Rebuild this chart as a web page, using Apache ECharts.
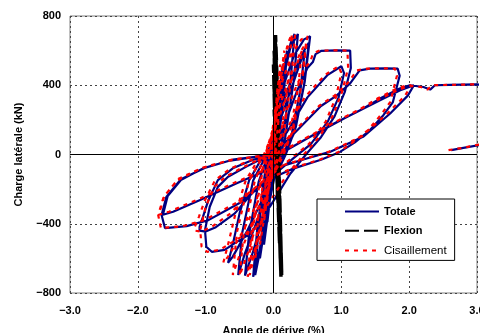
<!DOCTYPE html>
<html>
<head>
<meta charset="utf-8">
<script src="https://cdn.jsdelivr.net/npm/echarts@6/dist/echarts.min.js"></script>
<style>
  html, body { margin: 0; padding: 0; background: #fff; }
  #chart { width: 480px; height: 333px; }
</style>
</head>
<body>
<div id="chart"></div>
<script>
// Axis ticks
const xTicks = [-3, -2, -1, 0, 1, 2, 3];
const yTicks = [-800, -400, 0, 400, 800];

// Total lateral response: [drift %, lateral load kN], cycles in loading order
const totale = [
  [0,0],[0.03,150],[0.05,260],[0.03,110],[0.0,-20],[-0.03,-150],[-0.05,-260],[-0.03,-110],[0.0,20],
  [0.04,200],[0.09,390],[0.06,180],[0.01,-40],[-0.04,-210],[-0.09,-390],[-0.06,-170],[-0.01,40],
  [0.06,260],[0.14,520],[0.1,290],[0.03,0],[-0.05,-250],[-0.14,-520],[-0.1,-290],[-0.03,0],
  [0.08,290],[0.2,600],[0.15,340],[0.06,30],[-0.06,-240],[-0.2,-600],[-0.15,-340],[-0.06,-30],
  [0.05,200],[0.15,450],[0.25,640],[0.31,696],[0.25,420],[0.13,80],[0.0,-150],[-0.12,-380],[-0.22,-580],[-0.3,-706],[-0.24,-430],[-0.12,-90],[0.0,100],
  [0.12,400],[0.25,620],[0.36,696],[0.3,430],[0.17,90],[0.02,-120],[-0.1,-350],[-0.2,-560],[-0.27,-696],[-0.22,-420],[-0.1,-70],[0.02,120],
  [0.15,400],[0.3,570],[0.45,665],[0.54,683],[0.46,420],[0.33,160],[0.18,0],[0.0,-150],[-0.15,-350],[-0.3,-560],[-0.42,-700],[-0.36,-460],[-0.22,-160],[-0.08,0],
  [0.12,280],[0.3,470],[0.45,600],[0.52,645],[0.45,400],[0.3,120],[0.14,-10],[-0.06,-190],[-0.25,-390],[-0.42,-570],[-0.52,-696],[-0.46,-450],[-0.3,-150],[-0.1,0],
  [0.1,200],[0.28,400],[0.42,560],[0.46,600],[0.4,380],[0.26,100],[0.1,-30],[-0.15,-250],[-0.4,-450],[-0.6,-590],[-0.67,-625],[-0.6,-520],[-0.5,-340],[-0.36,-150],[-0.2,-40],[0.0,30],
  [0.15,160],[0.35,370],[0.5,500],[0.58,534],[0.62,580],[0.7,598],[0.93,602],[1.13,600],[1.14,500],[1.05,360],[0.9,220],[0.7,100],[0.5,10],[0.25,-110],[-0.05,-300],[-0.35,-460],[-0.57,-512],[-0.72,-551],[-0.91,-562],[-0.99,-533],[-1.01,-437],[-0.94,-302],[-0.82,-187],[-0.67,-129],[-0.4,-70],[-0.1,-10],
  [0.2,130],[0.5,330],[0.8,460],[1.0,510],[1.04,470],[0.96,330],[0.8,190],[0.55,60],[0.3,-20],[0.0,-120],[-0.32,-225],[-0.57,-340],[-0.85,-420],[-1.0,-445],[-1.09,-440],[-1.09,-418],[-1.04,-360],[-0.96,-264],[-0.82,-148],[-0.6,-80],[-0.3,-30],[0,0],
  [0.3,120],[0.7,280],[0.93,340],[1.13,411],[1.27,486],[1.42,496],[1.65,498],[1.83,496],[1.86,455],[1.76,303],[1.62,227],[1.42,140],[1.2,70],[0.98,15],[0.7,-30],[0.3,-80],[-0.1,-150],[-0.5,-280],[-0.96,-379],[-1.28,-414],[-1.6,-425],[-1.65,-350],[-1.58,-245],[-1.38,-150],[-1.04,-80],[-0.64,-35],[-0.1,-4],
  [0.19,25],[0.58,111],[1.08,217],[1.57,313],[1.86,370],[2.07,400],[1.98,340],[1.72,237],[1.32,102],[0.83,15],[0.49,-23],[0.1,-70],[-0.1,-91],[-0.55,-167],[-1.09,-264],[-1.48,-331],[-1.63,-348],[-1.56,-240],[-1.35,-140],[-1.0,-75],[-0.6,-30],[0,0],
  [0.3,50],[0.9,180],[1.3,260],[1.57,323],[1.86,381],[2.01,400],[2.21,390],[2.31,375],[2.38,400],[2.6,402],[2.99,405],[3.1,400],
  null,
  [2.62,25],[2.8,38],[3.1,60]
];

// Flexural component
const flexion = [
  [0.03,0],[0.02,150],[0.01,260],[0.03,100],[0.05,-50],[0.06,-260],[0.05,-100],[0.03,50],
  [0.01,390],[0.03,150],[0.06,-150],[0.08,-390],[0.06,-150],[0.03,100],
  [0.0,520],[0.02,200],[0.06,-200],[0.09,-520],[0.07,-200],[0.03,150],
  [0.01,600],[0.04,300],[0.07,-100],[0.1,-600],[0.08,-300],[0.04,100],
  [0.02,696],[0.05,400],[0.07,0],[0.11,-706],[0.08,-350],[0.04,100],
  [0.03,690],[0.06,350],[0.08,-50],[0.12,-696],[0.09,-300],[0.05,50],
  [0.02,683],[0.05,300],[0.08,-100],[0.12,-680],[0.09,-300],[0.04,100],
  [0.03,640],[0.06,250],[0.08,-150],[0.11,-620],[0.08,-250],[0.03,150],
  [0.02,600],[0.05,200],[0.08,-200],[0.1,-560],[0.07,-200],[0.03,100],
  [0.03,500],[0.06,100],[0.09,-400],[0.06,-100],[0.03,0]
];

// Shear component
const cisaillement = [
  [0,0],[0.01,150],[0.02,260],[0.01,110],[-0.02,-20],[-0.06,-150],[-0.09,-260],[-0.07,-110],[-0.02,20],
  [0.02,200],[0.06,390],[0.03,180],[-0.02,-40],[-0.08,-210],[-0.14,-390],[-0.11,-170],[-0.03,40],
  [0.03,260],[0.1,520],[0.06,290],[0.0,0],[-0.09,-250],[-0.2,-520],[-0.16,-290],[-0.06,0],
  [0.05,290],[0.16,600],[0.11,340],[0.03,30],[-0.1,-240],[-0.27,-600],[-0.22,-340],[-0.1,-30],
  [0.02,200],[0.11,450],[0.21,640],[0.27,696],[0.21,420],[0.1,80],[-0.04,-150],[-0.18,-380],[-0.29,-580],[-0.38,-706],[-0.32,-430],[-0.17,-90],[-0.03,100],
  [0.08,400],[0.21,620],[0.32,696],[0.26,430],[0.14,90],[-0.02,-120],[-0.16,-350],[-0.27,-560],[-0.35,-696],[-0.3,-420],[-0.15,-70],[-0.01,120],
  [0.11,400],[0.26,570],[0.41,665],[0.5,683],[0.42,420],[0.3,160],[0.15,0],[-0.04,-150],[-0.21,-350],[-0.37,-560],[-0.5,-700],[-0.44,-460],[-0.28,-160],[-0.12,0],
  [0.09,280],[0.26,470],[0.41,600],[0.48,645],[0.41,400],[0.27,120],[0.11,-10],[-0.1,-190],[-0.31,-390],[-0.49,-570],[-0.6,-696],[-0.54,-450],[-0.36,-150],[-0.14,0],
  [0.07,200],[0.24,400],[0.38,560],[0.42,600],[0.36,380],[0.23,100],[0.07,-30],[-0.2,-250],[-0.46,-450],[-0.67,-590],[-0.74,-625],[-0.67,-520],[-0.56,-340],[-0.41,-150],[-0.24,-40],[-0.03,30],
  [0.12,160],[0.31,370],[0.46,500],[0.54,534],[0.58,580],[0.66,598],[0.89,602],[1.09,600],[1.1,500],[1.01,360],[0.87,220],[0.67,100],[0.47,10],[0.21,-110],[-0.1,-300],[-0.41,-460],[-0.63,-512],[-0.79,-551],[-0.98,-562],[-1.06,-533],[-1.08,-437],[-1.0,-302],[-0.87,-187],[-0.71,-129],[-0.43,-70],[-0.12,-10],
  [0.17,130],[0.46,330],[0.76,460],[0.96,510],[1.0,470],[0.92,330],[0.77,190],[0.52,60],[0.27,-20],[-0.04,-120],[-0.37,-225],[-0.63,-340],[-0.92,-420],[-1.07,-445],[-1.16,-440],[-1.16,-418],[-1.1,-360],[-1.01,-264],[-0.86,-148],[-0.63,-80],[-0.32,-30],[-0.02,0],
  [0.27,120],[0.67,280],[0.9,340],[1.09,411],[1.23,486],[1.38,496],[1.61,498],[1.79,496],[1.82,455],[1.72,303],[1.58,227],[1.39,140],[1.17,70],[0.96,15],[0.68,-30],[0.27,-80],[-0.14,-150],[-0.55,-280],[-1.02,-379],[-1.34,-414],[-1.66,-425],[-1.7,-350],[-1.62,-245],[-1.42,-150],[-1.07,-80],[-0.66,-35],[-0.11,-4],
  [0.17,25],[0.55,111],[1.05,217],[1.53,313],[1.82,370],[2.03,400],[1.94,340],[1.68,237],[1.29,102],[0.81,15],[0.47,-23],[0.07,-70],[-0.14,-91],[-0.6,-167],[-1.14,-264],[-1.54,-331],[-1.69,-348],[-1.61,-240],[-1.4,-140],[-1.04,-75],[-0.62,-30],[-0.02,0],
  [0.27,50],[0.87,180],[1.27,260],[1.53,323],[1.82,381],[1.97,400],[2.17,390],[2.27,375],[2.34,400],[2.56,402],[2.95,405],[3.1,402],
  null,
  [2.58,25],[2.78,38],[3.1,62]
];

const FONT = '"Liberation Sans", Arial, sans-serif';
const minus = v => String(v).replace('-', '\u2212');

const chart = echarts.init(document.getElementById('chart'), null, { renderer: 'canvas' });

chart.setOption({
  animation: false,
  backgroundColor: '#fff',
  grid: {
    left: 70, right: 3, top: 16, bottom: 40,
    containLabel: false, outerBoundsMode: 'none',
    show: true, borderColor: '#808080', borderWidth: 1, backgroundColor: 'transparent'
  },
  xAxis: {
    type: 'value',
    min: xTicks[0], max: xTicks[xTicks.length - 1], interval: 1,
    name: 'Angle de dérive (%)',
    nameLocation: 'middle', nameGap: 32,
    nameTextStyle: { fontFamily: FONT, fontWeight: 'bold', fontSize: 11, color: '#000' },
    axisLine: { show: false },
    axisTick: { show: false },
    axisLabel: {
      margin: 12.5, fontFamily: FONT, fontWeight: 'bold', fontSize: 11, color: '#000',
      formatter: v => minus(v.toFixed(1))
    },
    splitLine: { show: true, lineStyle: { color: '#444', type: [2, 3], width: 1 } }
  },
  yAxis: {
    type: 'value',
    min: yTicks[0], max: yTicks[yTicks.length - 1], interval: 400,
    name: 'Charge latérale (kN)',
    nameLocation: 'middle', nameGap: 46, nameRotate: 90,
    nameTextStyle: { fontFamily: FONT, fontWeight: 'bold', fontSize: 11, color: '#000' },
    axisLine: { show: false },
    axisTick: { show: false },
    axisLabel: {
      margin: 9, fontFamily: FONT, fontWeight: 'bold', fontSize: 11, color: '#000',
      formatter: v => minus(v)
    },
    splitLine: { show: true, lineStyle: { color: '#444', type: [2, 3], width: 1 } }
  },
  legend: {
    orient: 'vertical',
    left: 317, top: 199,
    padding: [7, 8, 4, 27],
    itemWidth: 34, itemHeight: 14, itemGap: 8,
    backgroundColor: '#fff', borderColor: '#000', borderWidth: 1,
    itemStyle: { opacity: 0 },
    textStyle: { fontFamily: FONT, fontSize: 11, color: '#000', fontWeight: 'bold' },
    data: [
      { name: 'Totale' },
      { name: 'Flexion' },
      { name: 'Cisaillement', textStyle: { fontWeight: 'normal', fontSize: 11.5 } }
    ]
  },
  series: [
    {
      name: 'zero',
      type: 'line',
      data: [],
      silent: true,
      z: 1,
      markLine: {
        silent: true, symbol: 'none',
        label: { show: false },
        lineStyle: { color: '#000', type: 'solid', width: 1 },
        data: [{ xAxis: 0 }, { yAxis: 0 }]
      }
    },
    {
      name: 'Totale', type: 'line', data: totale,
      showSymbol: false, symbol: 'none', connectNulls: false, z: 2,
      lineStyle: { color: '#000080', width: 2.2 }, itemStyle: { color: '#000080' }
    },
    {
      name: 'Flexion', type: 'line', data: flexion,
      showSymbol: false, symbol: 'none', z: 3,
      lineStyle: { color: '#000', width: 3.5, type: [14, 5] }, itemStyle: { color: '#000' }
    },
    {
      name: 'Cisaillement', type: 'line', data: cisaillement,
      showSymbol: false, symbol: 'none', connectNulls: false, z: 4,
      lineStyle: { color: '#ff0000', width: 2.2, type: [4, 5] }, itemStyle: { color: '#ff0000' }
    }
  ]
});
</script>
</body>
</html>
